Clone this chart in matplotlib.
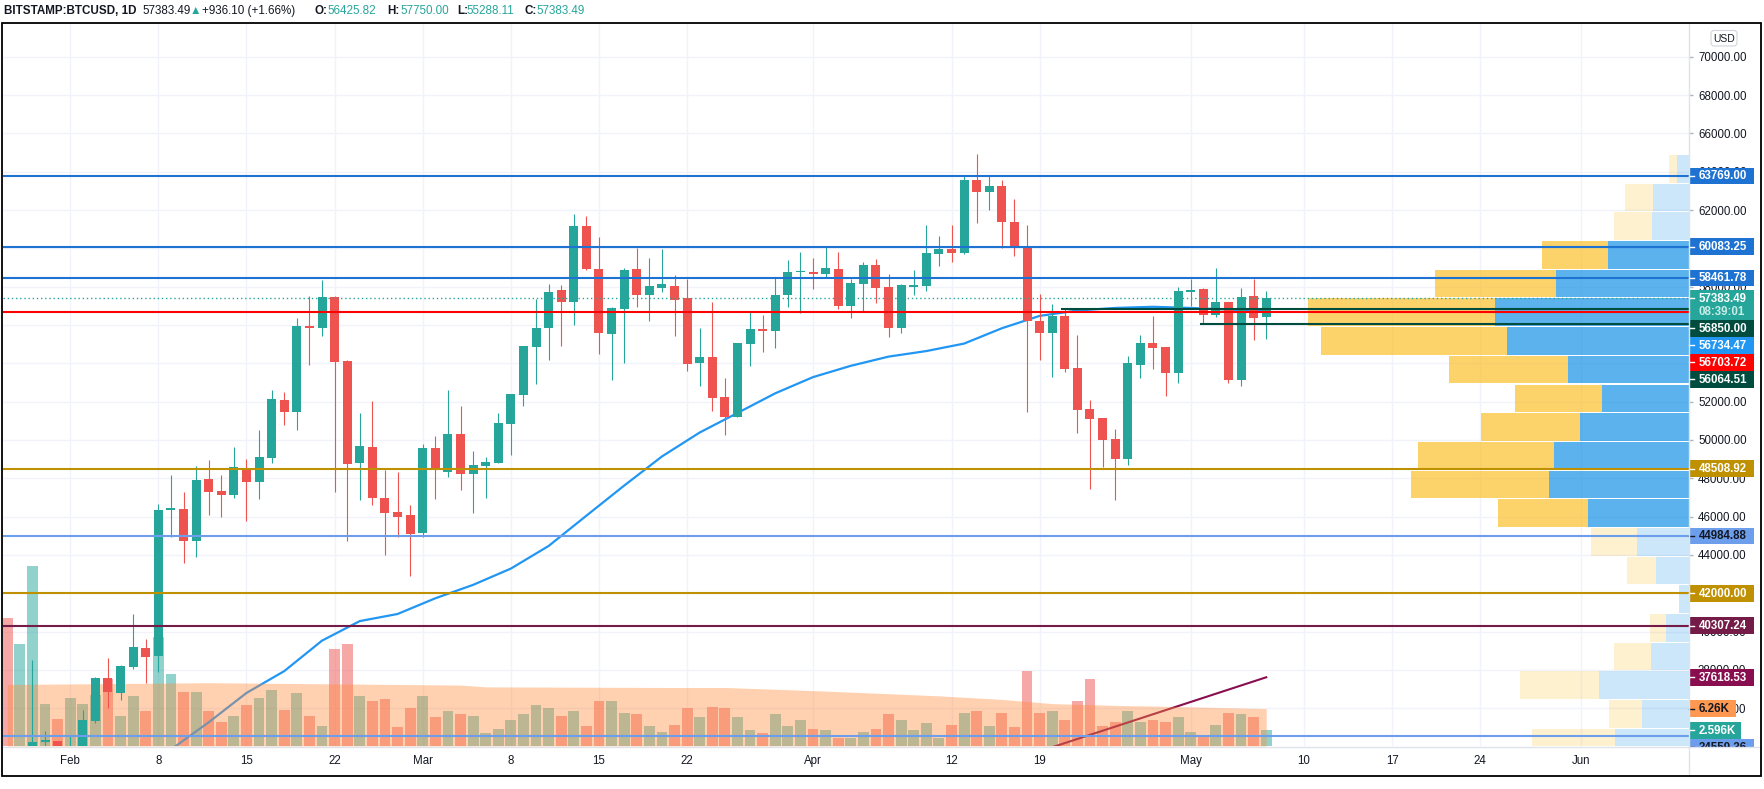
import numpy as np
import pandas as pd
import matplotlib
matplotlib.use('Agg')
import matplotlib.pyplot as plt
import matplotlib.dates as mdates
from matplotlib.patches import Rectangle, FancyBboxPatch
from matplotlib.transforms import blended_transform_factory

plt.rcParams['font.family'] = ['Liberation Sans', 'DejaVu Sans']

# BITSTAMP:BTCUSD daily candles, 27 Jan - 7 May 2021
dates = pd.date_range('2021-01-27', '2021-05-07', freq='D')
opens = [32500, 30400, 33420, 34250, 34270,
         33100, 33500, 35340, 37590, 36820, 38180, 39170, 38750, 46335, 46400, 44750, 47970, 47340, 47150,
         48530, 47830, 49040, 52090, 51480, 55935, 55860, 57480, 54125, 48820, 49640, 46980, 46250, 46090,
         45170, 49590, 48350, 50315, 48230, 48660, 48820, 50840, 52350, 54870, 55860, 57830, 57200, 61170,
         58925, 55550, 56840, 58925, 57585, 57950, 58040, 57410, 54040, 54320, 52245, 51220, 55030, 55800,
         55700, 57585, 58770,
         58760, 58680, 58925, 57010, 58155, 59130, 57985, 55860, 58000, 58050, 59720, 59970, 59775, 63570,
         62960, 63230, 61400, 60055, 56230, 55585, 56470, 53760, 51620, 51150, 50055, 49030, 53930, 55070,
         54855, 53515,
         57740, 57880, 56540, 57200, 53150, 57520, 56425.82]
highs = [32560, 33780, 38530, 34820, 34270,
         34600, 35920, 37655, 38630, 38265, 40925, 39620, 46660, 48180, 47290, 48650, 48960, 48180, 49640,
         49010, 50530, 52610, 52510, 56370, 57520, 58350, 57520, 54180, 51430, 52050, 48440, 48310, 46610,
         49800, 50210, 52610, 51770, 49430, 49130, 51430, 52400, 54910, 57375, 58140, 58090, 61790, 61690,
         60600, 56940, 58975, 60020, 59470, 59990, 58600, 58400, 55850, 57200, 53240, 55070, 56680, 56540,
         58455, 59390, 59810,
         59500, 60070, 59810, 58400, 59290, 59450, 58660, 58150, 58870, 61220, 60650, 61220, 63780, 64900,
         63800, 63560, 62570, 61200, 57620, 57100, 56840, 55480, 52090, 51150, 50580, 54385, 55480, 56470,
         54855, 57985,
         58400, 57930, 58975, 57200, 57930, 58420, 57750.00]
lows = [29240, 29950, 31990, 32840, 32200,
        32300, 33400, 35220, 36040, 36440, 38070, 37310, 37915, 44960, 43600, 43915, 46090, 46000, 46980,
        45790, 46940, 48820, 50800, 50540, 53930, 55445, 47310, 44750, 46870, 46610, 44000, 44960, 42910,
        44960, 46930, 48090, 47400, 46210, 46990, 48800, 49220, 51770, 52925, 54180, 54910, 56000, 58870,
        54490, 53130, 54020, 56940, 56230, 57740, 55445, 53620, 52830, 51530, 50280, 51200, 53880, 54610,
        54820, 56960, 56640,
        57900, 58520, 56850, 56380, 56750, 57165, 55390, 55600, 57585, 57790, 59100, 59300, 59720, 61300,
        62020, 60000, 59620, 51465, 54180, 53310, 53550, 50385, 47460, 48610, 46890, 48715, 53255, 53720,
        52315, 52990,
        56990, 56070, 56435, 52990, 52830, 55235, 55288.11]
closes = [30400, 33420, 34250, 34320, 33100,
          33500, 35400, 37590, 36870, 38210, 39200, 38700, 46350, 46455, 44750, 47920, 47310, 47150, 48600,
          47830, 49120, 52140, 51480, 55950, 55860, 57470, 54090, 48770, 49690, 46990, 46210, 46000, 45115,
          49590, 48490, 50315, 48230, 48700, 48855, 50890, 52400, 54910, 55850, 57725, 57200, 61170, 58925,
          55585, 56890, 58870, 57570, 58040, 58140, 57325, 53985, 54320, 52210, 51220, 55070, 55800, 55700,
          57570, 58770, 58790,
          58680, 58975, 57010, 58190, 59130, 57950, 55860, 58090, 58090, 59760, 59970, 59775, 63570, 62960,
          63230, 61400, 60055, 56230, 55585, 56470, 53720, 51585, 51115, 50000, 49030, 54020, 55070, 54820,
          53515, 57780,
          57830, 56540, 57200, 53150, 57470, 56380, 57383.49]
volume_k = [21.4, 17.1, 30.2, 7.1, 4.6,
            8.1, 7.0, 8.5, 11.3, 5.1, 8.3, 5.8, 18.3, 12.1, 9.1, 9.1, 5.8, 4.1, 5.1,
            6.8, 8.1, 9.3, 6.1, 8.9, 5.1, 3.4, 16.3, 17.1, 8.4, 7.6, 7.9, 3.1, 6.4,
            8.3, 4.8, 5.9, 5.4, 5.1, 2.1, 2.8, 4.3, 5.3, 6.8, 6.4, 5.1, 5.9, 3.3,
            7.5, 7.5, 5.6, 5.4, 3.4, 2.4, 3.6, 6.4, 4.9, 6.6, 6.4, 4.8, 2.6, 2.1,
            5.3, 3.3, 4.4,
            2.8, 2.6, 1.4, 1.4, 2.4, 2.8, 5.3, 4.4, 2.6, 3.8, 1.4, 3.6, 5.6, 5.8,
            3.4, 5.6, 3.1, 12.5, 5.6, 5.8, 4.4, 7.6, 11.3, 3.4, 4.1, 5.9, 4.1, 4.4,
            4.1, 4.8,
            2.3, 1.9, 3.6, 5.6, 5.4, 4.9, 2.596]

# moving average line
ma_dates = ['2021-02-09', '2021-02-12', '2021-02-15', '2021-02-18', '2021-02-21', '2021-02-24',
            '2021-02-27', '2021-03-02', '2021-03-05', '2021-03-08', '2021-03-11', '2021-03-14',
            '2021-03-17', '2021-03-20', '2021-03-23', '2021-03-26', '2021-03-29', '2021-04-01',
            '2021-04-04', '2021-04-07', '2021-04-10', '2021-04-13', '2021-04-16', '2021-04-19',
            '2021-04-22', '2021-04-25', '2021-04-28', '2021-05-01', '2021-05-04', '2021-05-07']
ma_values = [33850, 35270, 36800, 37940, 39530, 40550, 40920, 41740, 42440, 43290, 44470, 46050,
             47620, 49140, 50390, 51410, 52435, 53280, 53870, 54350, 54640, 55030, 55830, 56475,
             56755, 56890, 56950, 56890, 56805, 56734.47]

# volume moving average (orange area), in K
vol_ma_dates = ['2021-01-27', '2021-02-12', '2021-03-04', '2021-03-06', '2021-03-20', '2021-03-25',
                '2021-04-02', '2021-04-11', '2021-04-16', '2021-04-20', '2021-04-25', '2021-04-30',
                '2021-05-07']
vol_ma_k = [10.3, 10.6, 10.2, 9.9, 9.8, 9.8, 9.2, 8.4, 7.8, 7.1, 6.8, 6.6, 6.26]

# visible range volume profile, rows of 1497 USD from the top
vp_top = 64900
vp_step = 1497
vp_up = [12, 36, 37, 81, 133, 194, 182, 121, 87, 109, 135, 140, 101, 52, 33, 10, 23, 38, 90, 47, 74]
vp_down = [8, 28, 38, 66, 121, 187, 186, 119, 87, 99, 136, 138, 90, 46, 29, 0, 16, 37, 79, 33, 83]
vp_value_area = [False, False, False, True, True, True, True, True, True, True, True, True, True,
                 False, False, False, False, False, False, False, False]

# horizontal levels
levels = [63769.00, 60083.25, 58461.78, 56703.72, 48508.92, 44984.88, 42000.00, 40307.24, 34559.36]
level_colors = ['#1e72d2', '#1e72d2', '#1e72d2', '#ff0000', '#bf9000', '#6d9eeb', '#bf9000',
                '#741b47', '#6d9eeb']
seg_levels = [56850.00, 56064.51]
seg_start = ['2021-04-20 17:00', '2021-05-01 17:00']
trend_dates = ['2021-04-20', '2021-05-07']
trend_values = [33970, 37618.53]
last_price = 57383.49

tick_dates = ['2021-02-01', '2021-02-08', '2021-02-15', '2021-02-22', '2021-03-01', '2021-03-08',
              '2021-03-15', '2021-03-22', '2021-04-01', '2021-04-12', '2021-04-19', '2021-05-01',
              '2021-05-10', '2021-05-17', '2021-05-24', '2021-06-01']
tick_labels = ['Feb', '8', '15', '22', 'Mar', '8', '15', '22', 'Apr', '12', '19', 'May', '10', '17',
               '24', 'Jun']

TEAL, RED = '#26a69a', '#ef5350'
W, H = 1765, 789
L, T, R, B = 3, 24, 1689, 746          # plot area in pixels
ytop, ybot = 71706, 34032
vol_top = 120.9
feb1 = mdates.date2num(pd.Timestamp('2021-02-01'))
xl = (feb1 - 5.34, feb1 + 128.58)

fig = plt.figure(figsize=(W / 100, H / 100), dpi=100, facecolor='white')
rect = [L / W, 1 - B / H, (R - L) / W, (B - T) / H]
ax = fig.add_axes(rect)
axv = fig.add_axes(rect)
axv.set_xlim(xl)
axv.set_ylim(0, vol_top)
axv.set_visible(False)

x = mdates.date2num(dates.to_pydatetime())
o, h, l, c = map(np.array, (opens, highs, lows, closes))
up = c >= o
col = np.where(up, TEAL, RED)

# volume + volume MA area
ax.bar(x, volume_k, width=0.86, color=col, alpha=0.5, linewidth=0, zorder=2, transform=axv.transData)
vx = mdates.date2num(pd.to_datetime(vol_ma_dates).to_pydatetime())
ax.fill_between(vx, 0, vol_ma_k, color='#ff8c3c', alpha=0.4, linewidth=0, zorder=3,
                transform=axv.transData)

# MA and trend line (sit under the volume overlay)
ax.plot(mdates.date2num(pd.to_datetime(ma_dates).to_pydatetime()), ma_values, color='#2196f3',
        lw=1.6, zorder=2.5)
ax.plot(mdates.date2num(pd.to_datetime(trend_dates).to_pydatetime()), trend_values, color='#880e4f',
        lw=1.5, zorder=2.5)

# candles
ax.vlines(x, l, h, colors=col, lw=0.8, zorder=5)
ax.bar(x, np.maximum(np.abs(c - o), 40), bottom=np.minimum(o, c), width=0.715, color=col,
       linewidth=0, zorder=6)

# volume profile, anchored to the right edge
tr = blended_transform_factory(ax.transAxes, ax.transData)
sc = 1 / (R - L)
vp_c = vp_top - vp_step * (np.arange(len(vp_up)) + 0.5)
vu, vd = np.array(vp_up) * sc, np.array(vp_down) * sc
for i in range(len(vp_c)):
    a = 0.7 if vp_value_area[i] else 0.22
    ax.barh(vp_c[i], vd[i], left=1 - vu[i] - vd[i], height=vp_step * 0.96, color='#fbc02d', alpha=a,
            linewidth=0, zorder=4, transform=tr)
    ax.barh(vp_c[i], vu[i], left=1 - vu[i], height=vp_step * 0.96, color='#1592e6', alpha=a,
            linewidth=0, zorder=4, transform=tr)

# horizontal levels
for lv, lc in zip(levels, level_colors):
    ax.axhline(lv, color=lc, lw=1.5, zorder=7)
for lv, st in zip(seg_levels, seg_start):
    ax.hlines(lv, mdates.date2num(pd.Timestamp(st)), xl[1], color='#004d40', lw=1.5, zorder=7)
ax.axhline(last_price, color=TEAL, lw=1, ls=(0, (1, 2)), zorder=7)

ax.set_xlim(xl)
ax.set_ylim(ybot, ytop)
ax.set_xticks(mdates.date2num(pd.to_datetime(tick_dates).to_pydatetime()))
ax.set_xticklabels(tick_labels)
yt = np.arange(36000, 70001, 2000)
ax.set_yticks(yt)
ax.set_yticklabels([f'{v:.2f}' for v in yt])
ax.yaxis.tick_right()
ax.tick_params(axis='y', length=3, width=1, color='#b2b5be', pad=3.5, labelsize=8.3,
               labelcolor='#131722')
ax.tick_params(axis='x', length=0, pad=6.5, labelsize=8.3, labelcolor='#131722')
ax.grid(True, color='#f0f3fa', lw=1)
ax.set_axisbelow(True)
for s in ax.spines.values():
    s.set_visible(False)

# overlay in pixel coordinates: frame, price tags, header
ov = fig.add_axes([0, 0, 1, 1], zorder=10)
ov.set_xlim(0, W)
ov.set_ylim(H, 0)
ov.axis('off')


def py(p):
    return T + (ytop - p) / (ytop - ybot) * (B - T)


def pyv(v):
    return B - v / vol_top * (B - T)


tags = [('63769.00', py(63769.00), '#1e72d2', 'white', 65),
        ('60083.25', py(60083.25), '#1e72d2', 'white', 65),
        ('58461.78', py(58461.78), '#1e72d2', 'white', 65),
        ('57383.49\n08:39:01', py(last_price), TEAL, 'white', 65),
        ('56850.00', py(56850.00), '#004d40', 'white', 65),
        ('56734.47', py(56734.47), '#2196f3', 'white', 65),
        ('56703.72', py(56703.72), '#ff0000', 'white', 65),
        ('56064.51', py(56064.51), '#004d40', 'white', 65),
        ('48508.92', py(48508.92), '#bf9000', 'white', 65),
        ('44984.88', py(44984.88), '#6d9eeb', '#131722', 65),
        ('42000.00', py(42000.00), '#bf9000', 'white', 65),
        ('40307.24', py(40307.24), '#741b47', 'white', 65),
        ('37618.53', py(37618.53), '#880e4f', 'white', 65),
        ('6.26K', pyv(6.26), '#ff9850', '#131722', 47),
        ('2.596K', pyv(2.596), TEAL, 'white', 52),
        ('34559.36', py(34559.36), '#6d9eeb', '#131722', 65)]
tags.sort(key=lambda t: t[1])
prev = -1e9
for txt, yc, bg, fg, w in tags:
    lines = txt.split('\n')
    hh = 16.5 if len(lines) == 1 else 29.5
    top = max(yc - 8.25, prev + 0.5)
    ov.add_patch(Rectangle((R, top), w, hh, facecolor=bg, lw=0, zorder=3))
    ov.plot([R, R + 5], [top + 8.25] * 2, color=fg, lw=1, zorder=4)
    for k, ln in enumerate(lines):
        ov.text(R + 10, top + 8.5 + 13.5 * k, ln, color=fg if k == 0 else '#c8ece7', fontsize=8.3,
                fontweight='bold', va='center', ha='left', zorder=4)
    prev = top + hh

# blank out the time-axis corner, then separators and frame
ov.add_patch(Rectangle((R + 0.5, B + 1.5), W - R - 5, 28, facecolor='white', lw=0, zorder=5))
ov.plot([R + 0.5, R + 0.5], [23, 776], color='#e0e3eb', lw=1, zorder=6)
ov.plot([2, 1761], [B + 1, B + 1], color='#e0e3eb', lw=1, zorder=6)
ov.add_patch(Rectangle((2, 23), 1759, 753, fill=False, edgecolor='black', lw=1.3, zorder=7))

ov.add_patch(FancyBboxPatch((1711, 30.5), 26, 15.5, boxstyle='round,pad=0,rounding_size=3',
                            facecolor='white', edgecolor='#d1d4dc', lw=0.8, zorder=6))
ov.text(1724, 38.5, 'USD', fontsize=7.5, color='#131722', ha='center', va='center', zorder=7)

header = [('BITSTAMP:BTCUSD, 1D', 3.8, '#131722', 'bold'),
          ('57383.49', 142.4, '#131722', 'normal'),
          ('\u25b2', 189.4, TEAL, 'normal'),
          ('+936.10 (+1.66%)', 202, '#131722', 'normal'),
          ('O:', 314.6, '#131722', 'bold'), ('56425.82', 327.6, TEAL, 'normal'),
          ('H:', 387.3, '#131722', 'bold'), ('57750.00', 400.3, TEAL, 'normal'),
          ('L:', 457.7, '#131722', 'bold'), ('55288.11', 466.9, TEAL, 'normal'),
          ('C:', 525, '#131722', 'bold'), ('57383.49', 536.5, TEAL, 'normal')]
for txt, hx, hc, fw in header:
    ov.text(hx, 13.8, txt, color=hc, fontsize=8.4, fontweight=fw, ha='left', va='baseline')

fig.savefig('out.png', dpi=100, facecolor='white')
